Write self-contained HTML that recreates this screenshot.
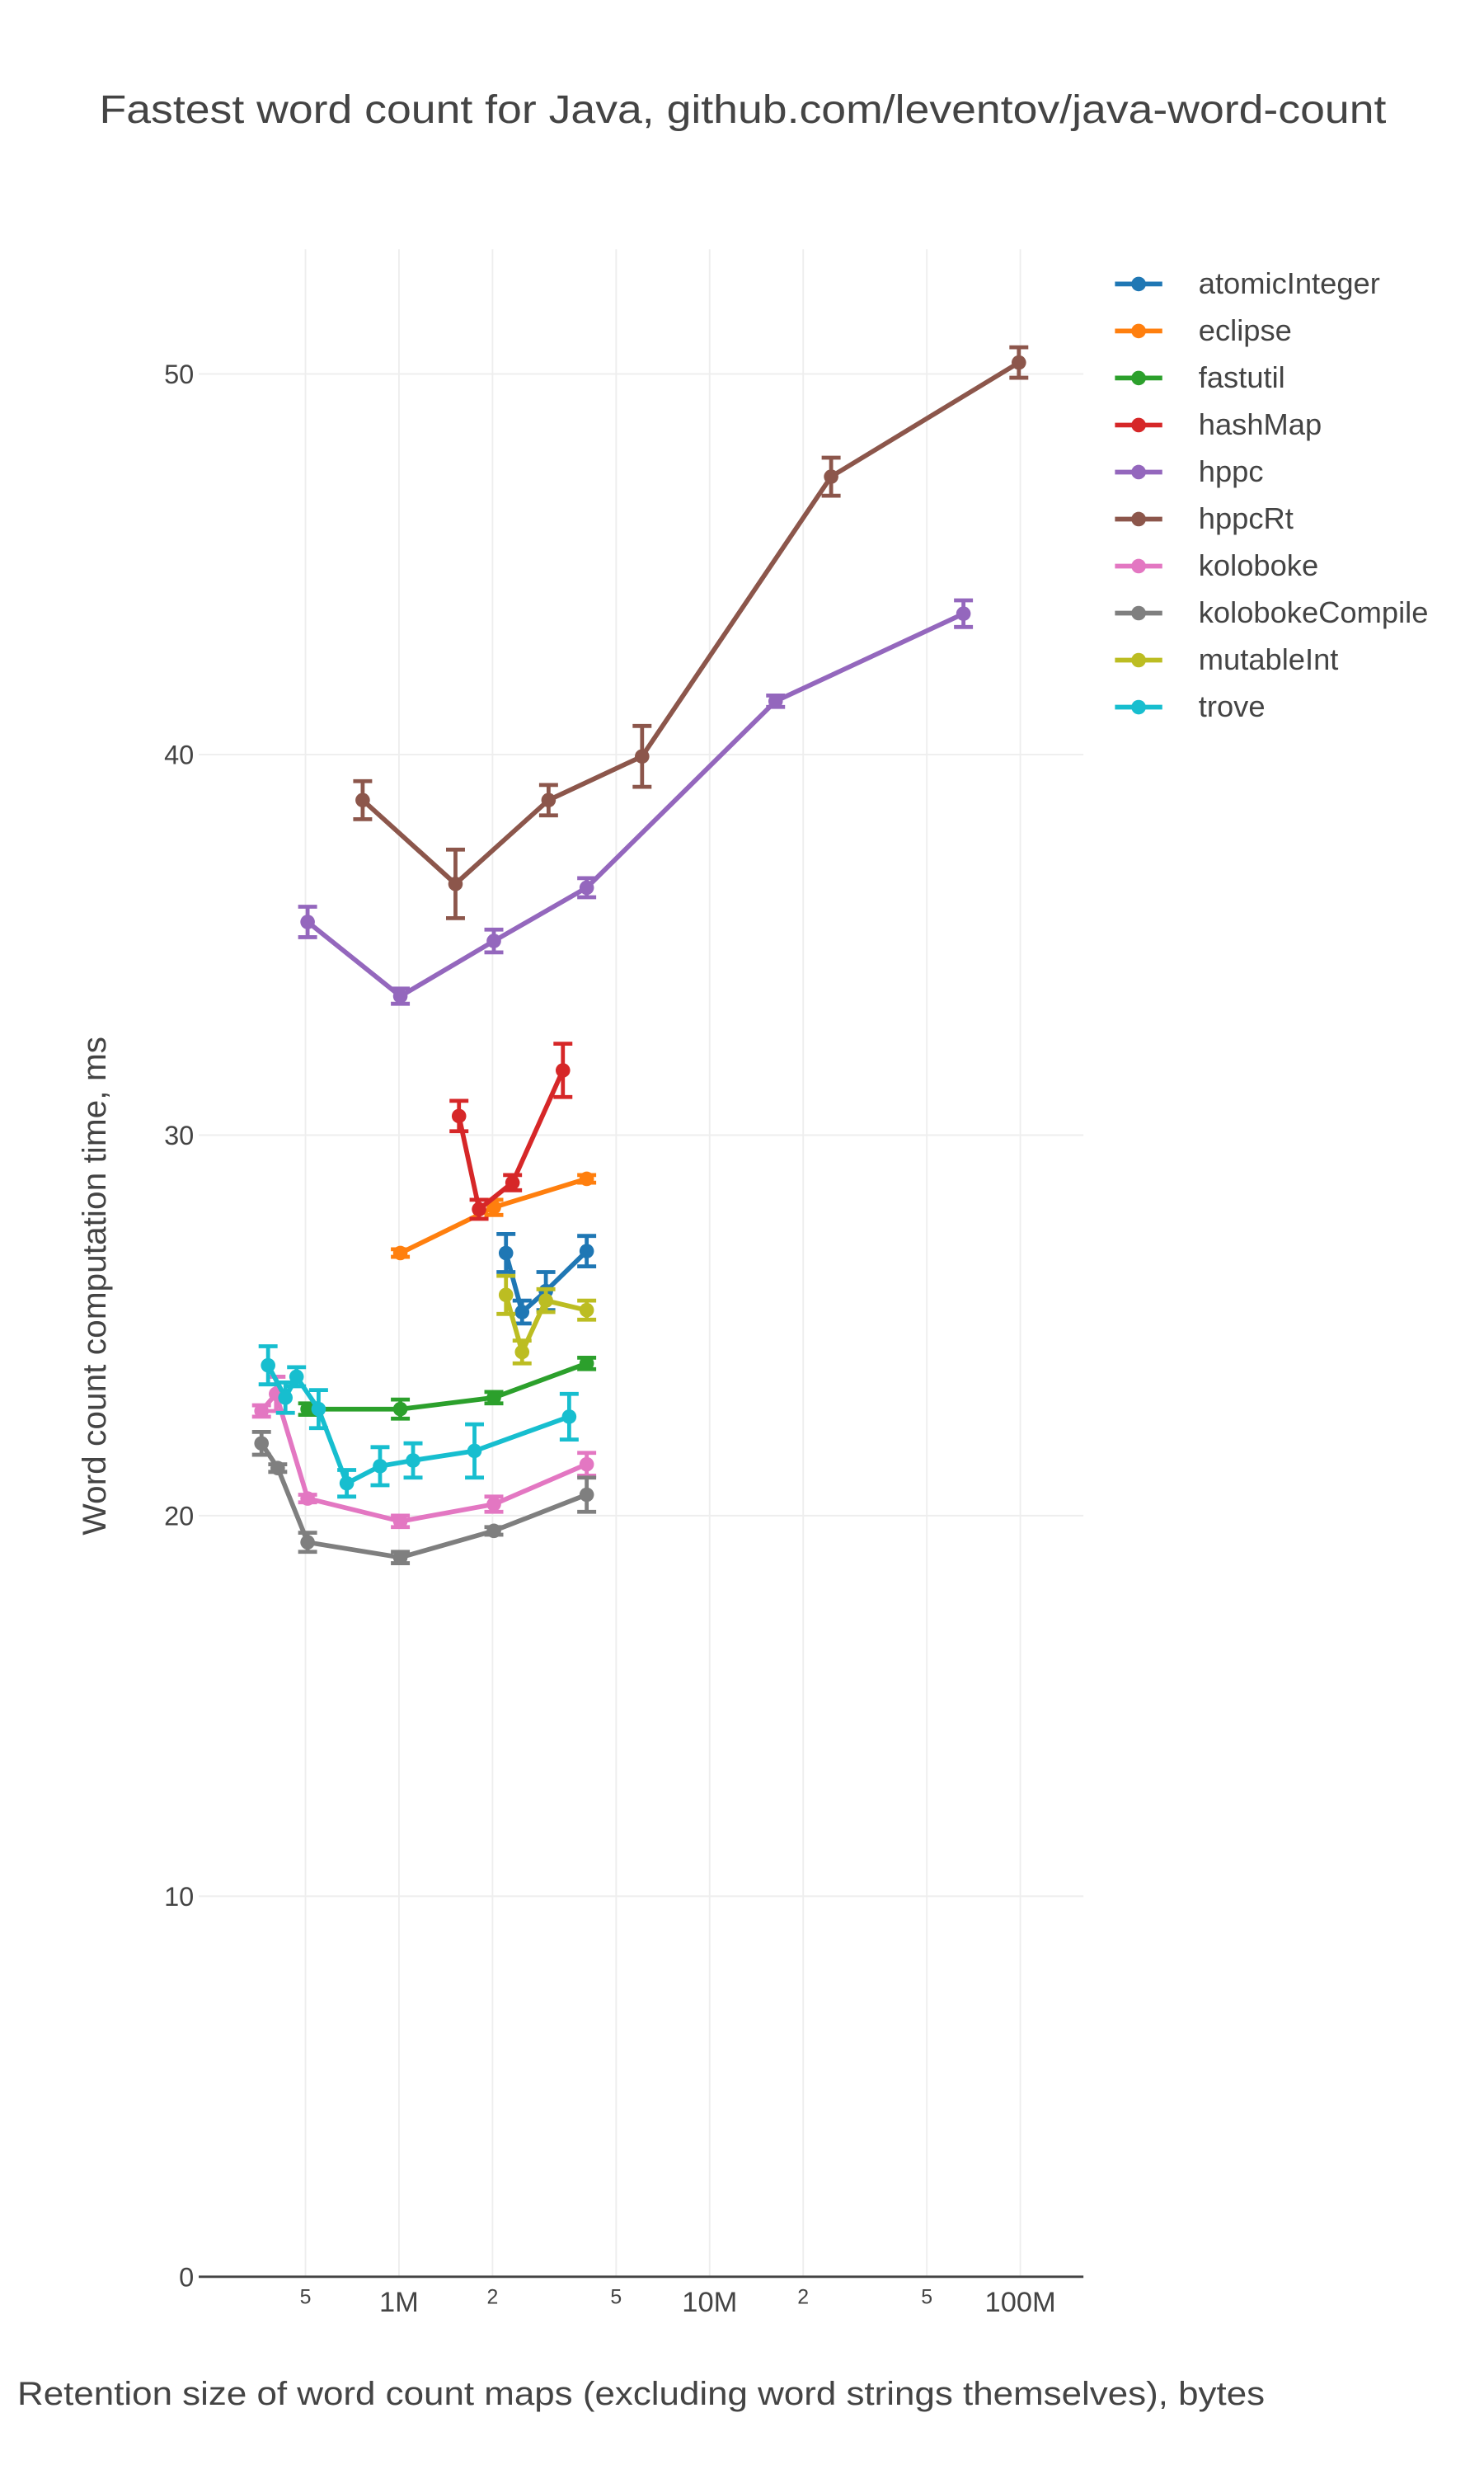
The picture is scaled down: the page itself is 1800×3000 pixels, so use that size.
<!DOCTYPE html>
<html><head><meta charset="utf-8"><style>
html,body{margin:0;padding:0;background:#fff;}
svg{display:block;font-family:"Liberation Sans",sans-serif;}
</style></head><body>
<svg id="chart" width="1800" height="3000" viewBox="0 0 941 1568" preserveAspectRatio="none" xmlns="http://www.w3.org/2000/svg">
<rect width="941" height="1568" fill="#fff"/>
<text x="471" y="78" text-anchor="middle" font-size="25" fill="#444" textLength="816" lengthAdjust="spacingAndGlyphs">Fastest word count for Java, github.com/leventov/java-word-count</text>
<text transform="translate(67,815) rotate(-90)" text-anchor="middle" font-size="21" fill="#444" textLength="316" lengthAdjust="spacingAndGlyphs">Word count computation time, ms</text>
<text x="11" y="1524" font-size="21" fill="#444" textLength="791" lengthAdjust="spacingAndGlyphs">Retention size of word count maps (excluding word strings themselves), bytes</text>
<g id="grid"></g>
<g id="axes"></g>
<g id="series"></g>
<g id="legend"></g>
</svg>
<script>
const seriesNames = ["atomicInteger","eclipse","fastutil","hashMap","hppc","hppcRt","koloboke","kolobokeCompile","mutableInt","trove"];
const seriesColors = ["#1f77b4","#ff7f0e","#2ca02c","#d62728","#9467bd","#8c564b","#e377c2","#7f7f7f","#bcbd22","#17becf"];
const atomicIntegerX = [2.21e6,2.49e6,2.97e6,4.02e6];
const atomicIntegerY = [26.9,25.35,25.9,26.95];
const atomicIntegerErr = [0.5,0.3,0.5,0.4];
const eclipseX = [1.01e6,2.02e6,4.02e6];
const eclipseY = [26.9,28.1,28.85];
const eclipseErr = [0.1,0.2,0.1];
const fastutilX = [5.08e5,1.01e6,2.02e6,4.02e6];
const fastutilY = [22.8,22.8,23.1,24.0];
const fastutilErr = [0.15,0.25,0.15,0.15];
const hashMapX = [1.56e6,1.81e6,2.32e6,3.37e6];
const hashMapY = [30.5,28.05,28.75,31.7];
const hashMapErr = [0.4,0.25,0.2,0.7];
const hppcX = [5.08e5,1.01e6,2.02e6,4.02e6,1.63e7,6.56e7];
const hppcY = [35.6,33.65,35.1,36.5,41.4,43.7];
const hppcErr = [0.4,0.2,0.3,0.25,0.15,0.35];
const hppcRtX = [7.64e5,1.52e6,3.03e6,6.06e6,2.46e7,9.89e7];
const hppcRtY = [38.8,36.6,38.8,39.95,47.3,50.3];
const hppcRtErr = [0.5,0.9,0.4,0.8,0.5,0.4];
const kolobokeX = [3.61e5,4.02e5,5.08e5,1.01e6,2.02e6,4.02e6];
const kolobokeY = [22.75,23.2,20.45,19.85,20.3,21.35];
const kolobokeErr = [0.15,0.45,0.1,0.15,0.2,0.3];
const kolobokeCompileX = [3.61e5,4.07e5,5.08e5,1.01e6,2.02e6,4.02e6];
const kolobokeCompileY = [21.9,21.25,19.3,18.9,19.6,20.55];
const kolobokeCompileErr = [0.3,0.1,0.25,0.15,0.1,0.45];
const mutableIntX = [2.21e6,2.49e6,2.97e6,4.02e6];
const mutableIntY = [25.8,24.3,25.65,25.4];
const mutableIntErr = [0.5,0.3,0.3,0.25];
const troveX = [3.79e5,4.31e5,4.68e5,5.51e5,6.79e5,8.69e5,1.11e6,1.75e6,3.53e6];
const troveY = [23.95,23.1,23.65,22.8,20.85,21.3,21.45,21.7,22.6];
const troveErr = [0.5,0.4,0.25,0.5,0.35,0.5,0.45,0.7,0.6];
const yTicks = [0,10,20,30,40,50];
const xTickVals = [5e5,1e6,2e6,5e6,1e7,2e7,5e7,1e8];
const xTickLabels = ["5","1M","2","5","10M","2","5","100M"];

const allX=[atomicIntegerX,eclipseX,fastutilX,hashMapX,hppcX,hppcRtX,kolobokeX,kolobokeCompileX,mutableIntX,troveX];
const allY=[atomicIntegerY,eclipseY,fastutilY,hashMapY,hppcY,hppcRtY,kolobokeY,kolobokeCompileY,mutableIntY,troveY];
const allE=[atomicIntegerErr,eclipseErr,fastutilErr,hashMapErr,hppcErr,hppcRtErr,kolobokeErr,kolobokeCompileErr,mutableIntErr,troveErr];

const NS="http://www.w3.org/2000/svg";
const X0=126,X1=687,Y0=1443;
function sx(v){return 253+(Math.log10(v)-6)*197;}
function sy(v){return Y0-v*24.12;}
function mk(tag,attrs,parent){const e=document.createElementNS(NS,tag);for(const k in attrs)e.setAttribute(k,attrs[k]);parent.appendChild(e);return e;}
const grid=document.getElementById('grid'),axes=document.getElementById('axes'),ser=document.getElementById('series'),leg=document.getElementById('legend');
yTicks.forEach(t=>{
  if(t>0){const l=mk('line',{x1:X0,x2:X1,y1:sy(t),y2:sy(t),stroke:'#eee','stroke-width':1},grid);
  
  }
  const tx=mk('text',{x:X0-3,y:sy(t)+6,'text-anchor':'end','font-size':17,fill:'#444'},axes);
  tx.textContent=t;
  
  
});
xTickVals.forEach((v,i)=>{
  const l=mk('line',{x1:sx(v),x2:sx(v),y1:158,y2:Y0,stroke:'#eee','stroke-width':1},grid);
  
  
  const big=xTickLabels[i].length>1;
  const tx=mk('text',{x:sx(v),y:big?1465:1460,'text-anchor':'middle','font-size':big?18:13,fill:'#444'},axes);
  tx.textContent=xTickLabels[i];
  
  
});
const ax=mk('line',{x1:X0,x2:X1,y1:Y0,y2:Y0,stroke:'#444','stroke-width':1.5},axes);



seriesNames.forEach((n,i)=>{
  const c=seriesColors[i],xs=allX[i],ys=allY[i],es=allE[i];
  const g=mk('g',{},ser);
  
  
  const pts=xs.map((x,j)=>sx(x).toFixed(1)+','+sy(ys[j]).toFixed(1)).join(' ');
  const pl=mk('polyline',{points:pts,fill:'none',stroke:c,'stroke-width':3,'stroke-linejoin':'round'},g);
  
  
  xs.forEach((x,j)=>{
    const px=sx(x),y1=sy(ys[j]+es[j]),y2=sy(ys[j]-es[j]);
    const eb=mk('path',{d:`M${px},${y1}V${y2}M${px-6},${y1}H${px+6}M${px-6},${y2}H${px+6}`,stroke:c,'stroke-width':2.5,fill:'none'},g);
    
    
    const p=mk('circle',{cx:px,cy:sy(ys[j]),r:4.6,fill:c},g);
    
    
  });
  const ly=180+i*29.8;
  const lg=mk('g',{},leg);
  
  
  mk('line',{x1:707,x2:737,y1:ly,y2:ly,stroke:c,'stroke-width':3},lg);
  mk('circle',{cx:722,cy:ly,r:4.6,fill:c},lg);
  const t=mk('text',{x:760,y:ly+6,'font-size':19,fill:'#444'},lg);
  t.textContent=n;
});
</script>
</body></html>
